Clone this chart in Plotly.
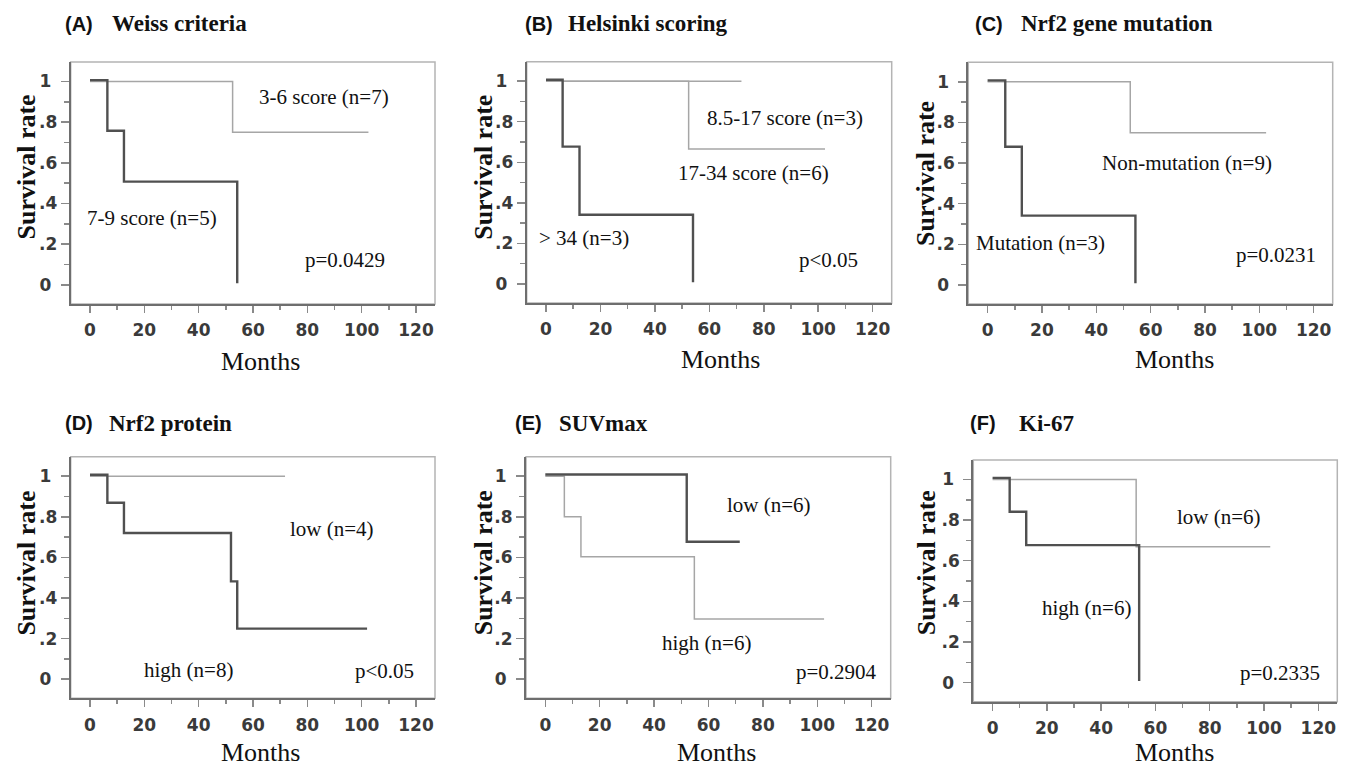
import plotly.graph_objects as go

W, H = 1346, 767

# ---------------- data (months, survival) ----------------
# (A) Weiss criteria
a_low_t = [0, 52.5, 102.5];            a_low_s = [1.0, 0.75, 0.75]          # 3-6 score (n=7)
a_high_t = [0, 6.4, 12.5, 54.2];       a_high_s = [1.007, 0.758, 0.508, 0.008]  # 7-9 score (n=5)
# (B) Helsinki scoring
b_low_t = [0, 71.8];                   b_low_s = [1.0, 1.0]                 # 8.5-17 score (n=3)
b_mid_t = [0, 52.4, 102.5];            b_mid_s = [1.0, 0.666, 0.666]        # 17-34 score (n=6)
b_high_t = [0, 6.1, 12.3, 54.0];       b_high_s = [1.007, 0.677, 0.341, 0.008]  # > 34 (n=3)
# (C) Nrf2 gene mutation
c_non_t = [0, 52.5, 102.5];            c_non_s = [1.0, 0.749, 0.749]        # Non-mutation (n=9)
c_mut_t = [0, 6.5, 12.6, 54.4];        c_mut_s = [1.007, 0.68, 0.341, 0.008]    # Mutation (n=3)
# (D) Nrf2 protein
d_low_t = [0, 71.8];                   d_low_s = [1.0, 1.0]                 # low (n=4)
d_high_t = [0, 6.4, 12.5, 51.9, 54.2, 102.0]
d_high_s = [1.007, 0.869, 0.72, 0.482, 0.249, 0.249]                        # high (n=8)
# (E) SUVmax
e_low_t = [0, 52.0, 71.5];             e_low_s = [1.008, 0.677, 0.677]      # low (n=6)
e_high_t = [0, 7.0, 13.1, 54.8, 102.5]; e_high_s = [1.0, 0.8, 0.603, 0.297, 0.297]  # high (n=6)
# (F) Ki-67
f_low_t = [0, 52.9, 102.3];            f_low_s = [1.0, 0.669, 0.669]        # low (n=6)
f_high_t = [0, 6.3, 12.4, 54.0];       f_high_s = [1.008, 0.841, 0.677, 0.008]  # high (n=6)

panel_letters = ["(A)", "(B)", "(C)", "(D)", "(E)", "(F)"]
panel_titles = ["Weiss criteria", "Helsinki scoring", "Nrf2 gene mutation",
                "Nrf2 protein", "SUVmax", "Ki-67"]
y_tickvals = [0, 0.2, 0.4, 0.6, 0.8, 1]
y_ticktext = ["0\u00a0", ".2", ".4", ".6", ".8", "1\u00a0"]
y_minor = [0.1, 0.3, 0.5, 0.7, 0.9]

# per-panel series: (times, surv, style)
series = [
    [(a_low_t, a_low_s, "light"), (a_high_t, a_high_s, "dark")],
    [(b_low_t, b_low_s, "light"), (b_mid_t, b_mid_s, "light"), (b_high_t, b_high_s, "dark")],
    [(c_non_t, c_non_s, "light"), (c_mut_t, c_mut_s, "dark")],
    [(d_low_t, d_low_s, "light"), (d_high_t, d_high_s, "dark")],
    [(e_high_t, e_high_s, "light"), (e_low_t, e_low_s, "dark")],
    [(f_low_t, f_low_s, "light"), (f_high_t, f_high_s, "dark")],
]

# in-plot labels: (text, x month, y survival)
labels = [
    [("3-6 score (n=7)", 86.1, 0.926), ("7-9 score (n=5)", 22.9, 0.328), ("p=0.0429", 93.9, 0.123)],
    [("8.5-17 score (n=3)", 87.7, 0.816), ("17-34 score (n=6)", 76.3, 0.546),
     ("> 34 (n=3)", 14.1, 0.226), ("p<0.05", 103.7, 0.12)],
    [("Non-mutation (n=9)", 73.3, 0.598), ("Mutation (n=3)", 19.5, 0.205), ("p=0.0231", 106.1, 0.148)],
    [("low (n=4)", 89.1, 0.741), ("high (n=8)", 36.2, 0.044), ("p<0.05", 108.3, 0.041)],
    [("low (n=6)", 82.3, 0.857), ("high (n=6)", 59.1, 0.176), ("p=0.2904", 106.9, 0.036)],
    [("low (n=6)", 83.4, 0.816), ("high (n=6)", 34.5, 0.366), ("p=0.2335", 105.8, 0.046)],
]

# ---------------- layout geometry (pixels) ----------------
# plot boxes: left, right, top, bottom
boxes = [
    (70.7, 435.0, 62.0, 304.0),
    (526.7, 891.7, 61.7, 303.0),
    (968.3, 1332.7, 62.3, 304.0),
    (70.7, 435.0, 456.7, 698.3),
    (526.0, 890.7, 456.7, 698.3),
    (973.3, 1337.3, 460.0, 701.7),
]
title_pos = [  # letter x, title x, y centre
    (63.3, 110.0, 24.0), (523.3, 566.0, 24.0), (972.7, 1019.3, 24.0),
    (63.3, 106.7, 423.3), (513.3, 557.3, 423.3), (968.3, 1017.3, 423.3),
]
ytitle_pos = [(26, 167.5), (483.3, 167.5), (925, 174), (26.3, 563.3), (483.3, 563), (926.3, 563)]
xtitle_pos = [(260, 361.7), (720, 360), (1174, 360), (260, 752.5), (716.7, 752.5), (1174, 752.5)]

DARK = "#505050"
LIGHT = "#a6a6a6"
SERIF = "Liberation Serif"

def px(x):
    return x / W

def py(y):
    return 1 - y / H

fig = go.Figure()
layout = dict(width=W, height=H, margin=dict(l=0, r=0, t=0, b=0),
              paper_bgcolor="white", plot_bgcolor="white", showlegend=False)
annotations = []
shapes = []

tick_font = dict(family="DejaVu Sans", size=17, color="#3a3a3a", weight="bold")

for i in range(6):
    n = "" if i == 0 else str(i + 1)
    xa, ya = "x" + n, "y" + n
    l, r, t, b = boxes[i]
    layout["xaxis" + n] = dict(
        domain=[px(l), px(r)], range=[-7.1, 127], anchor=ya,
        showgrid=False, zeroline=False, showline=True, linecolor="#6e6e6e", linewidth=2,
        ticks="outside", ticklen=7, tickwidth=1.5, tickcolor="#8a8a8a",
        tickmode="linear", tick0=0, dtick=20, ticklabelstandoff=3,
        minor=dict(ticks="outside", ticklen=4, tickwidth=1.5, tickcolor="#8a8a8a", dtick=10, tick0=0),
        tickfont=tick_font, fixedrange=True,
    )
    layout["yaxis" + n] = dict(
        domain=[py(b), py(t)], range=[-0.094, 1.096], anchor=xa,
        showgrid=False, zeroline=False, showline=True, linecolor="#6e6e6e", linewidth=2,
        ticks="outside", ticklen=8, tickwidth=1.5, tickcolor="#8a8a8a",
        tickmode="array", tickvals=y_tickvals, ticktext=y_ticktext,
        minor=dict(ticks="outside", ticklen=5, tickwidth=1.5, tickcolor="#8a8a8a", tickvals=y_minor),
        tickfont=tick_font, fixedrange=True,
    )
    shapes.append(dict(type="rect", xref=xa + " domain", yref=ya + " domain",
                       x0=0, x1=1, y0=0, y1=1, line=dict(color="#b4b4b4", width=1.5),
                       layer="below"))
    for tt, ss, style in series[i]:
        fig.add_trace(go.Scatter(
            x=tt, y=ss, xaxis=xa, yaxis=ya, mode="lines", line_shape="hv",
            line=dict(color=DARK if style == "dark" else LIGHT,
                      width=2.4 if style == "dark" else 1.5),
            hoverinfo="skip"))
    for text, xm, ys in labels[i]:
        annotations.append(dict(text=text, x=xm, y=ys, xref=xa, yref=ya, showarrow=False,
                                xanchor="center", yanchor="middle",
                                font=dict(family=SERIF, size=21, color="#111")))
    lx, tx, ty = title_pos[i]
    annotations.append(dict(text=panel_letters[i], x=px(lx), y=py(ty), xref="paper", yref="paper",
                            showarrow=False, xanchor="left", yanchor="middle",
                            font=dict(family="Liberation Sans", size=20, color="#111", weight="bold")))
    annotations.append(dict(text=panel_titles[i], x=px(tx), y=py(ty), xref="paper", yref="paper",
                            showarrow=False, xanchor="left", yanchor="middle",
                            font=dict(family=SERIF, size=23, color="#111", weight="bold")))
    yx, yy = ytitle_pos[i]
    annotations.append(dict(text="Survival rate", x=px(yx), y=py(yy), xref="paper", yref="paper",
                            showarrow=False, textangle=-90, xanchor="center", yanchor="middle",
                            font=dict(family=SERIF, size=26, color="#111", weight="bold")))
    mx, my = xtitle_pos[i]
    annotations.append(dict(text="Months", x=px(mx), y=py(my), xref="paper", yref="paper",
                            showarrow=False, xanchor="center", yanchor="middle",
                            font=dict(family=SERIF, size=26, color="#111")))

layout["annotations"] = annotations
layout["shapes"] = shapes
fig.update_layout(**layout)
fig.write_html("out.html", config={"displayModeBar": False, "staticPlot": True},
               post_script="document.body.style.margin='0px';document.body.style.overflow='hidden';")
